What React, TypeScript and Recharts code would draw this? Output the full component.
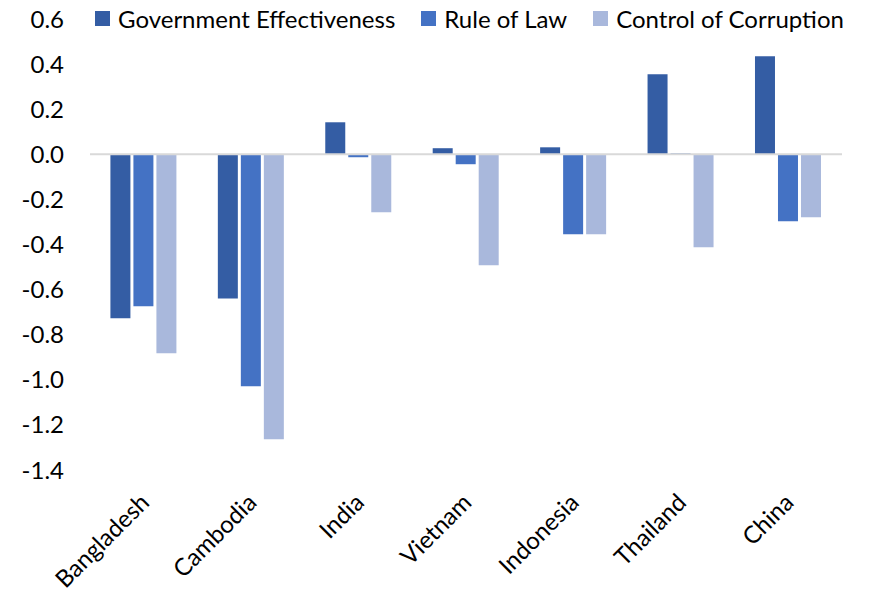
import { BarChart, Bar, XAxis, YAxis, ReferenceLine, Legend } from 'recharts';

const countries = ['Bangladesh', 'Cambodia', 'India', 'Vietnam', 'Indonesia', 'Thailand', 'China'];
const governmentEffectiveness = [-0.727, -0.639, 0.142, 0.027, 0.031, 0.355, 0.435];
const ruleOfLaw = [-0.674, -1.029, -0.013, -0.044, -0.355, 0.004, -0.297];
const controlOfCorruption = [-0.882, -1.264, -0.257, -0.492, -0.355, -0.412, -0.279];
const yTicks = [0.6, 0.4, 0.2, 0, -0.2, -0.4, -0.6, -0.8, -1.0, -1.2, -1.4];

const series = [
  { key: 'ge', name: 'Government Effectiveness', color: '#345DA4' },
  { key: 'rol', name: 'Rule of Law', color: '#4472C4' },
  { key: 'coc', name: 'Control of Corruption', color: '#A9B8DC' },
];

const data = countries.map((c, i) => ({
  country: c,
  ge: governmentEffectiveness[i],
  rol: ruleOfLaw[i],
  coc: controlOfCorruption[i],
}));

const FONT = 'Lato, "Open Sans", sans-serif';

const CountryTick = ({ x, y, payload }: any) => (
  <text
    x={x + 7}
    y={y + 26}
    transform={`rotate(-45, ${x + 7}, ${y + 26})`}
    textAnchor="end"
    fontSize={24}
    fontFamily={FONT}
    fill="#000"
  >
    {payload.value}
  </text>
);

const LegendContent = () => (
  <div style={{ display: 'flex', alignItems: 'center', fontFamily: FONT, fontSize: 24, color: '#000', whiteSpace: 'nowrap' }}>
    {series.map((s, i) => (
      <div key={s.key} style={{ display: 'flex', alignItems: 'center', marginRight: i < 2 ? 26 : 0 }}>
        <span style={{ width: 15, height: 15, background: s.color, display: 'inline-block', marginRight: 8 }} />
        <span>{s.name}</span>
      </div>
    ))}
  </div>
);

export default function App() {
  return (
    <div style={{ position: 'absolute', left: 0, top: 0, background: '#fff' }}>
      <BarChart
        width={869}
        height={593}
        data={data}
        margin={{ top: 19, right: 27, bottom: 0, left: 0 }}
        barCategoryGap="19%"
        barGap={3}
      >
        <XAxis
          dataKey="country"
          axisLine={false}
          tickLine={false}
          interval={0}
          tick={<CountryTick />}
          height={123}
        />
        <YAxis
          domain={[-1.4, 0.6]}
          ticks={yTicks}
          interval={0}
          axisLine={false}
          tickLine={false}
          tickSize={0}
          tickMargin={26}
          width={90}
          tickFormatter={(v: number) => v.toFixed(1)}
          tick={{ fontSize: 24, fill: '#000', fontFamily: FONT }}
        />
        <ReferenceLine y={0} stroke="#D9D9D9" strokeWidth={2} />
        <Legend
          verticalAlign="middle"
          layout="horizontal"
          content={<LegendContent />}
          wrapperStyle={{ top: 4, left: 95, width: 'auto' }}
        />
        {series.map((s) => (
          <Bar key={s.key} dataKey={s.key} name={s.name} fill={s.color} isAnimationActive={false} />
        ))}
      </BarChart>
    </div>
  );
}
